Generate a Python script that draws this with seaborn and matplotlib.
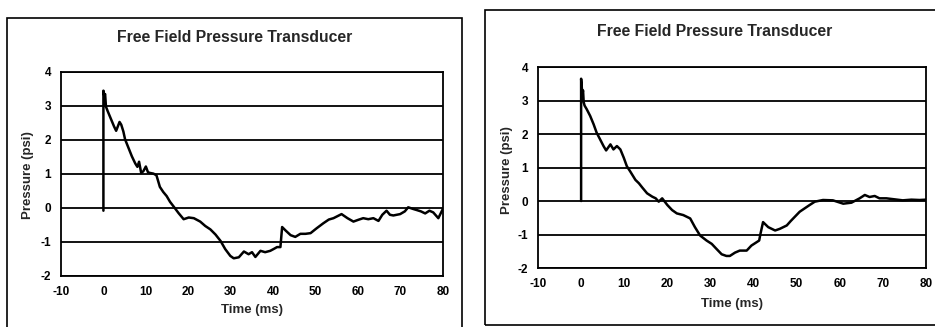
# Free field pressure transducer traces, two test shots side by side
import matplotlib
matplotlib.use("Agg")
import matplotlib.pyplot as plt
from matplotlib.patches import Rectangle
import pandas as pd
import seaborn as sns

# ---- Data ----
left_time = [0, 0, 0.2, 0.4, 0.6, 1.0, 1.5, 2.0, 2.5, 3.0,
             3.4, 3.8, 4.2, 4.7, 5.1, 5.9, 6.7, 7.5, 8.0, 8.4,
             8.9, 9.4, 10.0, 10.5, 11.0, 11.8, 12.5, 13.3, 14.1, 14.9,
             15.7, 16.5, 17.7, 18.9, 20.1, 21.3, 22.8, 24.0, 25.2, 26.4,
             27.6, 28.7, 29.9, 30.7, 31.9, 33.1, 34.2, 35.0, 35.8, 37.0,
             38.1, 39.3, 40.2, 40.9, 41.7, 42.1, 42.9, 44.1, 45.2, 46.4,
             47.6, 48.8, 50.2, 51.8, 53.1, 54.2, 56.1, 57.5, 58.9, 60.0,
             61.2, 62.4, 63.6, 64.8, 65.7, 66.7, 67.5, 68.3, 69.9, 71.0,
             71.8, 73.0, 73.8, 74.8, 75.8, 76.8, 77.7, 78.9, 80.0]
left_pressure = [-0.08, 3.45, 3.3, 3.35, 2.98, 2.85, 2.7, 2.55, 2.4, 2.27,
                 2.4, 2.53, 2.45, 2.25, 2.02, 1.77, 1.52, 1.31, 1.21, 1.36,
                 1.03, 1.08, 1.22, 1.05, 1.03, 1.01, 0.96, 0.62, 0.47, 0.35,
                 0.18, 0.05, -0.15, -0.33, -0.28, -0.3, -0.4, -0.53, -0.63, -0.78,
                 -0.97, -1.21, -1.41, -1.48, -1.45, -1.28, -1.36, -1.3, -1.44, -1.26,
                 -1.3, -1.26, -1.2, -1.15, -1.15, -0.56, -0.66, -0.8, -0.85, -0.76,
                 -0.76, -0.74, -0.6, -0.45, -0.34, -0.3, -0.18, -0.3, -0.4, -0.35,
                 -0.3, -0.33, -0.3, -0.38, -0.2, -0.08, -0.2, -0.22, -0.18, -0.1,
                 0.02, -0.03, -0.06, -0.1, -0.16, -0.08, -0.13, -0.3, -0.02]

right_time = [0, 0, 0.15, 0.3, 0.45, 0.6, 0.8, 1.3, 2.1, 2.9,
              3.6, 4.4, 5.2, 5.8, 6.3, 6.8, 7.5, 8.3, 9.1, 9.9,
              10.6, 11.4, 12.6, 13.4, 14.2, 15.3, 16.5, 17.3, 18.0, 18.8,
              20.0, 21.1, 22.2, 23.7, 25.3, 26.4, 27.6, 29.1, 30.3, 31.4,
              32.6, 33.7, 34.5, 35.7, 36.8, 38.4, 39.5, 40.7, 41.3, 41.6,
              42.2, 43.4, 45.0, 46.1, 47.7, 48.6, 50.7, 53.0, 54.2, 56.1,
              58.4, 60.8, 62.7, 64.6, 65.8, 66.9, 68.1, 69.2, 70.8, 72.7,
              74.6, 76.6, 78.5, 80.0]
right_pressure = [0.0, 3.65, 3.4, 3.2, 3.3, 2.95, 2.85, 2.74, 2.54, 2.29,
                  2.04, 1.84, 1.64, 1.51, 1.6, 1.69, 1.54, 1.64, 1.54, 1.29,
                  1.04, 0.88, 0.63, 0.53, 0.4, 0.23, 0.13, 0.08, -0.02, 0.08,
                  -0.12, -0.27, -0.37, -0.42, -0.52, -0.78, -1.03, -1.18, -1.28, -1.43,
                  -1.59, -1.64, -1.64, -1.54, -1.48, -1.48, -1.33, -1.23, -1.18, -0.98,
                  -0.63, -0.78, -0.88, -0.83, -0.73, -0.6, -0.32, -0.12, -0.02, 0.03,
                  0.02, -0.08, -0.05, 0.08, 0.18, 0.12, 0.15, 0.08, 0.08, 0.05,
                  0.02, 0.04, 0.03, 0.04]

title = "Free Field Pressure Transducer"
x_ticks = [-10, 0, 10, 20, 30, 40, 50, 60, 70, 80]
y_ticks = [-2, -1, 0, 1, 2, 3, 4]

# ---- Style ----
sns.set_style("white")
plt.rcParams['font.family'] = ['Liberation Sans', 'DejaVu Sans']
plt.rcParams['font.weight'] = 'bold'
plt.rcParams['axes.unicode_minus'] = False

fig = plt.figure(figsize=(9.35, 3.27), dpi=100)

# panel layout: axes rect, outer frame rect, title / label positions (figure fraction)
panels = [
    dict(time=left_time, pressure=left_pressure,
         rect=[0.0652, 0.156, 0.4086, 0.6239],
         frame=(0.0075, -0.02, 0.4865, 0.965),
         title_xy=(0.251, 0.884), ylabel_xy=(0.030, 0.465), xlabel_xy=(0.2695, 0.052)),
    dict(time=right_time, pressure=right_pressure,
         rect=[0.5754, 0.1804, 0.415, 0.6147],
         frame=(0.519, 0.006, 0.49, 0.963),
         title_xy=(0.764, 0.905), ylabel_xy=(0.542, 0.48), xlabel_xy=(0.783, 0.070)),
]

for p in panels:
    df = pd.DataFrame({"Time (ms)": p["time"], "Pressure (psi)": p["pressure"]})
    ax = fig.add_axes(p["rect"])
    sns.lineplot(data=df, x="Time (ms)", y="Pressure (psi)", ax=ax,
                 color="black", linewidth=1.8, estimator=None, sort=False)

    ax.set_xlim(-10, 80)
    ax.set_ylim(-2, 4)
    ax.set_xticks(x_ticks)
    ax.set_yticks(y_ticks)
    ax.yaxis.grid(True, color="black", linewidth=1.3)
    ax.xaxis.grid(False)
    for s in ax.spines.values():
        s.set_color("black")
        s.set_linewidth(1.3)
    ax.tick_params(direction="out", length=3, width=1, colors="black",
                   labelsize=8.5, pad=4)
    for lab in ax.get_xticklabels() + ax.get_yticklabels():
        lab.set_fontweight("bold")
    ax.set_xlabel("")
    ax.set_ylabel("")

    # outer chart frame
    fx, fy, fw, fh = p["frame"]
    fig.add_artist(Rectangle((fx, fy), fw, fh, transform=fig.transFigure,
                             fill=False, edgecolor="black", linewidth=1.2))

    fig.text(*p["title_xy"], title, ha="center", va="center",
             fontsize=11.3, fontweight="bold")
    fig.text(*p["xlabel_xy"], "Time (ms)", ha="center", va="center",
             fontsize=9.5, fontweight="bold")
    fig.text(*p["ylabel_xy"], "Pressure (psi)", ha="center", va="center",
             rotation=90, fontsize=9.5, fontweight="bold")

fig.savefig("out.png", dpi=100)
